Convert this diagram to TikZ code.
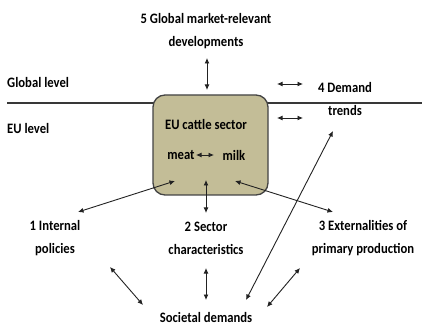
\documentclass[tikz,border=0pt]{standalone}
\usepackage{fontspec}
\setmainfont{Carlito}[FakeStretch=0.88]
\usetikzlibrary{arrows.meta}
\definecolor{sectorfill}{HTML}{C3BD97}
\definecolor{ink}{HTML}{222222}
\begin{document}
\begin{tikzpicture}[x=1pt,y=-1pt,
  lbl/.style={inner sep=0pt,align=center,font=\bfseries\fontsize{14.4}{23}\selectfont},
  sectorbox/.style={draw=ink!85,line width=1.3pt,fill=sectorfill,rounded corners=12pt,
    minimum width=115pt,minimum height=100pt,inner sep=0pt},
  dbl/.style={draw=ink,line width=0.9pt,{Latex[length=5.5pt,width=5pt]}-{Latex[length=5.5pt,width=5pt]}},
  levelline/.style={draw=ink!90,line width=1.2pt}]
\useasboundingbox (0,0) rectangle (422,328);

% level separator, covered by the sector box
\coordinate (lineL) at (7,103);
\coordinate (lineR) at (422,103);
\draw[levelline] (lineL) -- (lineR);

% central sector box
\node[sectorbox] (sector) at (210.5,145) {};
\node[lbl] (cattle) at (206,125) {EU cattle sector};
\node[lbl] (meat) at (181,155) {meat};
\node[lbl] (milk) at (234,155) {milk};
\coordinate (mmA) at (196,155);
\coordinate (mmB) at (214,155);
\draw[dbl] (mmA) -- (mmB);

% level labels
\node[lbl,anchor=west] (glob) at (7,83) {Global level};
\node[lbl,anchor=west] (eu) at (7,129) {EU level};

% outer factors
\node[lbl] (global) at (206,31) {5 Global market-relevant\\developments};
\node[lbl] (demand) at (345,99) {4 Demand\\trends};
\node[lbl] (policies) at (55,238) {1 Internal\\policies};
\node[lbl] (sectorch) at (206,238) {2 Sector\\characteristics};
\node[lbl] (extern) at (363,238) {3 Externalities of\\primary production};
\node[lbl] (society) at (206,317) {Societal demands};

% connector end points
\coordinate (gTop) at (207,58);   \coordinate (gBot) at (207,90);
\coordinate (r1a) at (277,84);    \coordinate (r1b) at (303,84);
\coordinate (r2a) at (277,118);   \coordinate (r2b) at (303,118);
\coordinate (pIn) at (175,181);   \coordinate (pOut) at (78,212);
\coordinate (sIn) at (206,180);   \coordinate (sOut) at (206,213);
\coordinate (eIn) at (235,181);   \coordinate (eOut) at (333,212);
\coordinate (dTop) at (333,131);  \coordinate (dBot) at (246,300);
\coordinate (pl1) at (110,267);   \coordinate (pl2) at (143,305);
\coordinate (sc1) at (206,268);   \coordinate (sc2) at (206,300);
\coordinate (ex1) at (300,268);   \coordinate (ex2) at (267,307);

\draw[dbl] (gTop) -- (gBot);
\draw[dbl] (r1a) -- (r1b);
\draw[dbl] (r2a) -- (r2b);
\draw[dbl] (pIn) -- (pOut);
\draw[dbl] (sIn) -- (sOut);
\draw[dbl] (eIn) -- (eOut);
\draw[dbl] (dTop) -- (dBot);
\draw[dbl] (pl1) -- (pl2);
\draw[dbl] (sc1) -- (sc2);
\draw[dbl] (ex1) -- (ex2);
\end{tikzpicture}
\end{document}
